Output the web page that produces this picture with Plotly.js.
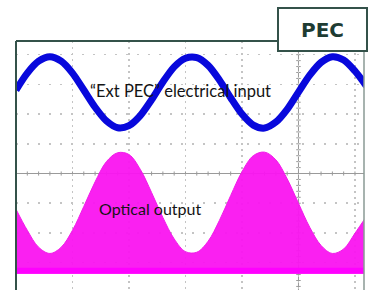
<!DOCTYPE html>
<html>
<head>
<meta charset="utf-8">
<script src="https://cdn.plot.ly/plotly-3.0.1.min.js"></script>
<style>html,body{margin:0;padding:0;background:#fff;}#chart{width:370px;height:290px;}</style>
</head>
<body>
<div id="chart"></div>
<script>
// Time axis in screen divisions
var timeDiv = [0,0.2,0.4,0.6,0.8,1.0,1.2,1.4,1.6,1.8,2.0,2.2,2.4,2.6,2.8,3.0,3.2,3.4,3.6,3.8,4.0,4.2,4.4,4.6,4.8,5.0,5.2,5.4,5.6,5.8,6.0,6.2];
// "Ext PEC" electrical input (divisions)
var electricalInput = [2.81,3.38,3.78,3.93,3.78,3.38,2.81,2.23,1.77,1.54,1.61,1.95,2.48,3.08,3.59,3.88,3.90,3.64,3.15,2.55,2.00,1.63,1.53,1.73,2.16,2.74,3.31,3.74,3.93,3.82,3.45,2.95];
// Optical output envelope (divisions)
var opticalOutput = [-1.20,-1.91,-2.48,-2.69,-2.48,-1.91,-1.11,-0.28,0.40,0.70,0.64,0.14,-0.64,-1.48,-2.20,-2.63,-2.65,-2.28,-1.58,-0.74,0.06,0.60,0.72,0.46,-0.18,-1.00,-1.81,-2.42,-2.69,-2.54,-2.01,-1.45];
var opticalFloor = [-3.37,-3.37];
var floorTime = [0,6.2];
var labels = ['\u201cExt PEC\u201d electrical input','Optical output','PEC'];

var frameColor = '#34524a';
var traces = [
  {x: floorTime, y: opticalFloor, mode:'lines', line:{width:0, color:'rgba(0,0,0,0)'}, hoverinfo:'skip', showlegend:false},
  {x: timeDiv, y: opticalOutput, mode:'lines', line:{shape:'spline', smoothing:1, width:1, color:'#f21ce9'}, fill:'tonexty', fillcolor:'rgba(250,20,240,0.95)', showlegend:false},
  {x: floorTime, y: [opticalFloor[0]+0.1, opticalFloor[1]+0.1], mode:'lines', line:{width:6, color:'#ff00ff'}, showlegend:false},
  {x: timeDiv, y: electricalInput, mode:'lines', line:{shape:'spline', smoothing:0.8, width:7, color:'#0808dc'}, showlegend:false}
];

var shapes = [];
// center cross axes
shapes.push({type:'line', xref:'x', yref:'paper', x0:5, x1:5, y0:0, y1:1, line:{color:'#9a9a9a', width:1}, layer:'below'});
for (var t = 0; t <= 6.2; t += 0.2) {
  shapes.push({type:'line', xref:'x', yref:'y', x0:t, x1:t, y0:-0.07, y1:0.07, line:{color:'#9a9a9a', width:1}, layer:'below'});
}
for (var v = -4; v <= 4.5; v += 0.2) {
  shapes.push({type:'line', xref:'x', yref:'y', x0:4.96, x1:5.04, y0:v, y1:v, line:{color:'#9a9a9a', width:1}, layer:'below'});
}
// frame (left, top, right)
shapes.push({type:'line', xref:'paper', yref:'paper', x0:0, x1:0, y0:-0.02, y1:1, line:{color:frameColor, width:2}});
shapes.push({type:'line', xref:'paper', yref:'paper', x0:0, x1:1, y0:1, y1:1, line:{color:frameColor, width:2}});
shapes.push({type:'line', xref:'paper', yref:'paper', x0:1, x1:1, y0:-0.02, y1:1, line:{color:'#8a9a95', width:1.5}});

var layout = {
  width:370, height:290,
  margin:{l:16, r:6, t:41, b:0},
  paper_bgcolor:'#ffffff', plot_bgcolor:'#ffffff',
  showlegend:false,
  xaxis:{range:[0,6.16], showticklabels:false, ticks:'', zeroline:false, showline:false,
         tickmode:'linear', tick0:0, dtick:1, showgrid:true, gridcolor:'#c4c4c4', gridwidth:1.5, griddash:'2px,4px'},
  yaxis:{range:[-3.92,4.46], showticklabels:false, ticks:'', showline:false,
         tickmode:'linear', tick0:0, dtick:1, showgrid:true, gridcolor:'#c4c4c4', gridwidth:1.5, griddash:'2px,9px',
         zeroline:true, zerolinecolor:'#9a9a9a', zerolinewidth:1},
  shapes: shapes,
  annotations:[
    {text:labels[0], xref:'paper', yref:'paper', x:(180-16)/348, y:(290-91)/249, xanchor:'center', yanchor:'middle', showarrow:false,
     font:{family:'Lato, sans-serif', size:16.5, color:'#141414'}},
    {text:labels[1], xref:'paper', yref:'paper', x:(97-16)/348, y:(290-208)/249, xanchor:'left', yanchor:'middle', showarrow:false,
     font:{family:'Lato, sans-serif', size:16, color:'#141414'}},
    {text:'<b>'+labels[2]+'</b>', xref:'paper', yref:'paper', x:(322.5-16)/348, y:(290-29)/249, xanchor:'center', yanchor:'middle', showarrow:false,
     font:{family:'DejaVu Sans, sans-serif', size:20, color:'#1e3c33'},
     bgcolor:'#ffffff', bordercolor:frameColor, borderwidth:2, width:87, height:41, borderpad:0}
  ]
};
Plotly.newPlot('chart', traces, layout, {displayModeBar:false, staticPlot:true});
</script>
</body>
</html>
